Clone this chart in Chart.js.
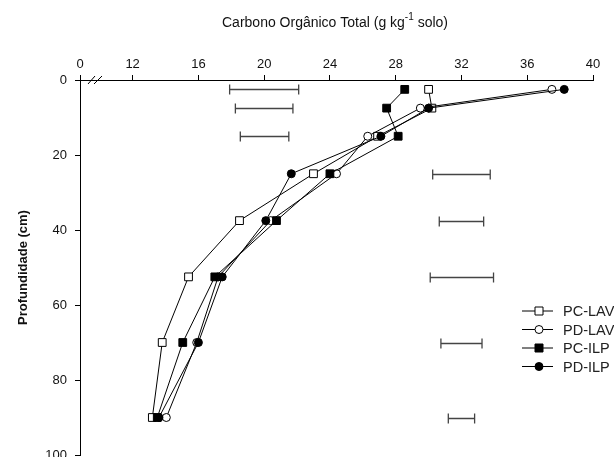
<!DOCTYPE html>
<html>
<head>
<meta charset="utf-8">
<script src="https://cdn.jsdelivr.net/npm/chart.js@4.4.1/dist/chart.umd.min.js"></script>
<style>
  html, body { margin: 0; padding: 0; background: #fff; }
</style>
</head>
<body>
<canvas id="chart" width="614" height="457"></canvas>
<script>
// Profundidades (cm) das camadas amostradas
const depths = [2.5, 7.5, 15, 25, 37.5, 52.5, 70, 90];

// Carbono orgânico total (g kg-1 solo) por sistema
const pcLav = [30.0, 30.2, 26.9, 23.0, 18.5, 15.4, 13.8, 13.2];
const pdLav = [37.5, 29.5, 26.3, 24.4, 20.4, 17.2, 15.9, 14.05];
const pcIlp = [28.55, 27.45, 28.15, 24.0, 20.75, 17.0, 15.05, 13.5];
const pdIlp = [38.25, 30.0, 27.1, 21.65, 20.1, 17.45, 16.0, 13.6];

// Barras de DMS (inicio / fim) por profundidade
const lsdLow = [17.9, 18.25, 18.55, 30.25, 30.65, 30.1, 30.75, 31.2];
const lsdHigh = [22.1, 21.75, 21.5, 33.75, 33.35, 33.95, 33.25, 32.8];

// Eixos
const seriesNames = ['PC-LAV', 'PD-LAV', 'PC-ILP', 'PD-ILP'];
const xTicks = [12, 16, 20, 24, 28, 32, 36, 40];
const xBreakLabel = '0';
const yTicks = [0, 20, 40, 60, 80, 100];

const FONT = "'Liberation Sans', Arial, sans-serif";
const xBreak = 8.8; // posicao do "0" no eixo quebrado

const styles = [
  { shape: 'rect', filled: false, order: 4 },
  { shape: 'circle', filled: false, order: 3 },
  { shape: 'rect', filled: true, order: 2 },
  { shape: 'circle', filled: true, order: 1 }
];

const seriesValues = [pcLav, pdLav, pcIlp, pdIlp];

const datasets = seriesNames.map((name, i) => ({
  label: name,
  data: seriesValues[i].map((v, j) => ({ x: v, y: depths[j] })),
  showLine: true,
  borderColor: '#000',
  borderWidth: 1,
  tension: 0,
  pointStyle: styles[i].shape,
  pointRadius: styles[i].shape === 'rect' ? 5.5 : 4,
  pointBackgroundColor: styles[i].filled ? '#000' : '#fff',
  pointBorderColor: '#000',
  pointBorderWidth: 1,
  order: styles[i].order
}));

function drawMarker(ctx, shape, filled, x, y) {
  ctx.beginPath();
  if (shape === 'rect') ctx.rect(x - 4, y - 4, 8, 8);
  else ctx.arc(x, y, 4, 0, Math.PI * 2);
  ctx.fillStyle = filled ? '#000' : '#fff';
  ctx.fill();
  ctx.lineWidth = 1;
  ctx.strokeStyle = '#000';
  ctx.stroke();
}

const extras = {
  id: 'extras',
  afterDraw(chart) {
    const ctx = chart.ctx;
    const xs = chart.scales.x;
    const ys = chart.scales.y;
    ctx.save();

    // barras de DMS
    ctx.strokeStyle = '#444';
    ctx.lineWidth = 1.3;
    depths.forEach((d, i) => {
      const y = Math.round(ys.getPixelForValue(d)) + 0.5;
      const x1 = xs.getPixelForValue(lsdLow[i]);
      const x2 = xs.getPixelForValue(lsdHigh[i]);
      ctx.beginPath();
      ctx.moveTo(x1, y); ctx.lineTo(x2, y);
      ctx.moveTo(x1, y - 5); ctx.lineTo(x1, y + 5);
      ctx.moveTo(x2, y - 5); ctx.lineTo(x2, y + 5);
      ctx.stroke();
    });

    // quebra do eixo
    const top = chart.chartArea.top;
    const left = chart.chartArea.left;
    ctx.strokeStyle = '#000';
    ctx.lineWidth = 1;
    ctx.beginPath();
    ctx.moveTo(left + 8, top + 4); ctx.lineTo(left + 15, top - 4);
    ctx.moveTo(left + 14, top + 4); ctx.lineTo(left + 22, top - 4);
    ctx.stroke();

    // titulo
    const cx = 335, by = 27;
    const p1 = 'Carbono Orgânico Total (g kg';
    const sup = '-1';
    const p2 = ' solo)';
    ctx.fillStyle = '#111';
    ctx.textBaseline = 'alphabetic';
    ctx.textAlign = 'left';
    ctx.font = '14px ' + FONT;
    const w1 = ctx.measureText(p1).width;
    const w3 = ctx.measureText(p2).width;
    ctx.font = '10px ' + FONT;
    const w2 = ctx.measureText(sup).width;
    let x = cx - (w1 + w2 + w3) / 2;
    ctx.font = '14px ' + FONT;
    ctx.fillText(p1, x, by);
    ctx.font = '10px ' + FONT;
    ctx.fillText(sup, x + w1, by - 7);
    ctx.font = '14px ' + FONT;
    ctx.fillText(p2, x + w1 + w2, by);

    // legenda
    const lx = 522, ly = 311;
    seriesNames.forEach((name, i) => {
      const y = ly + i * 18.5;
      ctx.beginPath();
      ctx.moveTo(lx, y); ctx.lineTo(lx + 31, y);
      ctx.strokeStyle = '#000';
      ctx.stroke();
      drawMarker(ctx, styles[i].shape, styles[i].filled, lx + 17, y);
      ctx.fillStyle = '#222';
      ctx.font = '14.5px ' + FONT;
      ctx.textBaseline = 'middle';
      ctx.fillText(name, lx + 41, y + 1);
    });
    ctx.restore();
  }
};

new Chart(document.getElementById('chart'), {
  type: 'scatter',
  data: { datasets: datasets },
  options: {
    responsive: false,
    animation: false,
    devicePixelRatio: 1,
    layout: { autoPadding: false, padding: { top: 0, right: 21, bottom: 2, left: 0 } },
    plugins: {
      legend: { display: false },
      tooltip: { enabled: false }
    },
    scales: {
      x: {
        type: 'linear',
        position: 'top',
        min: xBreak,
        max: 40,
        afterBuildTicks: axis => {
          axis.ticks = [xBreak].concat(xTicks).map(v => ({ value: v }));
        },
        afterFit: axis => {
          axis.height = 80;
          axis.paddingLeft = 0;
          axis.paddingRight = 0;
        },
        ticks: {
          autoSkip: false,
          maxRotation: 0,
          color: '#111',
          padding: 3,
          font: { family: FONT, size: 13 },
          callback: v => (v === xBreak ? xBreakLabel : String(v))
        },
        grid: { drawOnChartArea: false, tickLength: 5, color: '#000' },
        border: { display: true, color: '#000', width: 1 }
      },
      y: {
        type: 'linear',
        reverse: true,
        min: 0,
        max: 100,
        afterBuildTicks: axis => {
          axis.ticks = yTicks.map(v => ({ value: v }));
        },
        afterFit: axis => {
          axis.width = 80;
          axis.paddingTop = 0;
          axis.paddingBottom = 0;
        },
        ticks: {
          color: '#111',
          padding: 8,
          font: { family: FONT, size: 13 }
        },
        grid: { drawOnChartArea: false, tickLength: 5, color: '#000' },
        border: { display: true, color: '#000', width: 1 },
        title: {
          display: true,
          text: 'Profundidade (cm)',
          color: '#111',
          font: { family: FONT, size: 13, weight: 'bold' },
          padding: { top: 16, bottom: 0 }
        }
      }
    }
  },
  plugins: [extras]
});
</script>
</body>
</html>
